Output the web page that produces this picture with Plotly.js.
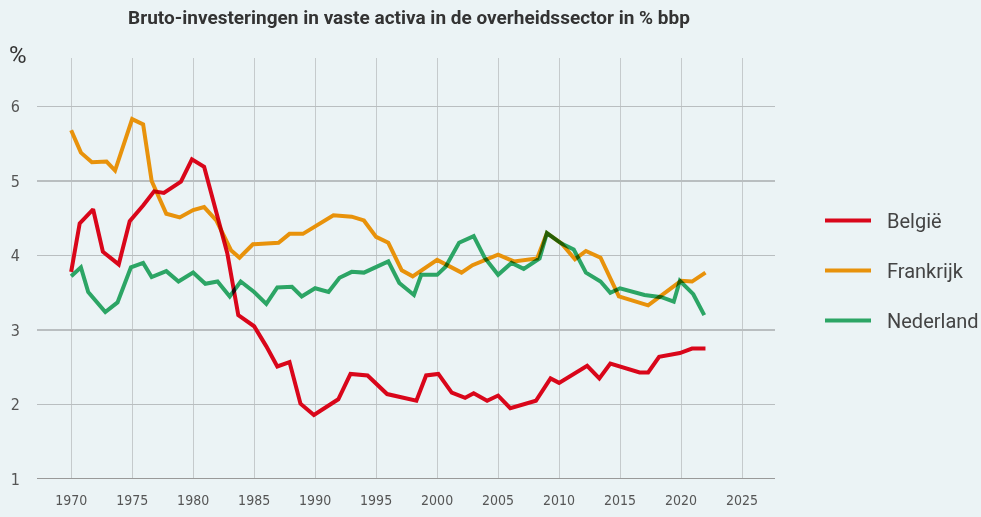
<!DOCTYPE html>
<html>
<head>
<meta charset="utf-8">
<script src="https://cdn.plot.ly/plotly-3.0.1.min.js"></script>
<style>
html,body{margin:0;padding:0;background:#ebf3f5;}
#chart{width:981px;height:517px;}
.scatterlayer .trace path.js-line{mix-blend-mode:multiply;}
.legend .legendlines path{stroke-dasharray:46 200;}
</style>
</head>
<body>
<div id="chart"></div>
<script>
// Belgium
const belgieYears = [1970.0,1970.7,1971.8,1972.6,1973.9,1974.8,1975.9,1976.8,1977.6,1979.0,1979.9,1980.9,1982.8,1983.7,1985.0,1986.0,1986.9,1987.9,1988.8,1989.9,1991.9,1992.9,1994.3,1995.9,1998.3,1999.1,2000.1,2001.2,2002.3,2003.0,2004.1,2005.0,2006.0,2008.1,2009.3,2010.0,2012.3,2013.3,2014.2,2016.6,2017.3,2018.2,2019.9,2020.9,2022.0];
const belgieValues = [3.78,4.43,4.62,4.05,3.88,4.46,4.67,4.86,4.84,4.99,5.29,5.19,4.03,3.20,3.05,2.78,2.51,2.57,2.01,1.86,2.07,2.41,2.39,2.14,2.05,2.39,2.41,2.16,2.09,2.15,2.05,2.12,1.95,2.05,2.35,2.29,2.52,2.35,2.55,2.43,2.43,2.64,2.69,2.75,2.75];
// France
const frankrijkYears = [1970.0,1970.8,1971.7,1972.9,1973.6,1975.0,1975.9,1976.6,1977.8,1978.9,1980.0,1980.9,1981.9,1983.1,1983.8,1984.9,1987.0,1987.9,1989.0,1991.5,1993.0,1994.0,1995.0,1996.0,1997.1,1998.0,2000.0,2002.0,2002.9,2005.0,2006.3,2008.2,2009.0,2010.2,2011.3,2012.2,2013.4,2014.9,2017.3,2020.0,2020.9,2022.0];
const frankrijkValues = [5.68,5.38,5.25,5.26,5.14,5.83,5.76,5.00,4.56,4.51,4.61,4.65,4.47,4.07,3.97,4.15,4.17,4.29,4.29,4.54,4.52,4.47,4.25,4.17,3.80,3.72,3.94,3.77,3.87,4.01,3.92,3.96,4.30,4.16,3.95,4.06,3.97,3.45,3.33,3.66,3.65,3.77];
// Netherlands
const nederlandYears = [1970.0,1970.8,1971.4,1972.8,1973.8,1974.9,1975.9,1976.6,1977.8,1978.8,1980.0,1981.0,1982.0,1983.0,1983.9,1985.0,1986.0,1986.9,1988.1,1988.9,1990.0,1991.1,1992.0,1993.0,1994.0,1996.0,1996.9,1998.1,1998.7,2000.0,2000.7,2001.8,2003.0,2003.9,2005.0,2006.1,2007.1,2008.4,2009.0,2010.2,2011.2,2012.2,2013.4,2014.2,2015.0,2017.0,2018.4,2019.4,2019.9,2021.0,2021.9];
const nederlandValues = [3.72,3.84,3.51,3.24,3.37,3.84,3.90,3.71,3.79,3.65,3.77,3.62,3.65,3.45,3.65,3.51,3.35,3.57,3.58,3.45,3.56,3.51,3.70,3.78,3.77,3.92,3.63,3.47,3.74,3.74,3.85,4.17,4.26,3.97,3.74,3.90,3.82,3.96,4.30,4.16,4.08,3.77,3.65,3.50,3.56,3.47,3.44,3.38,3.66,3.48,3.20];

const seriesNames = ['België','Frankrijk','Nederland'];
const seriesColors = ['#d9061a','#e8920b','#2ca565'];
const xTicks = [1970,1975,1980,1985,1990,1995,2000,2005,2010,2015,2020,2025];
const yTicks = [1,2,3,4,5,6];
const titleText = 'Bruto-investeringen in vaste activa in de overheidssector in % bbp';

const xs = [belgieYears, frankrijkYears, nederlandYears];
const ys = [belgieValues, frankrijkValues, nederlandValues];

const traces = seriesNames.map((n,i)=>({
  type:'scatter', mode:'lines', name:n,
  x:xs[i], y:ys[i],
  line:{color:seriesColors[i], width:4},
  legendgroup:n
}));

const tickFont = {family:'"Liberation Sans Narrow","DejaVu Sans Condensed","Roboto",sans-serif', size:14, color:'#555'};

const layout = {
  width:981, height:517,
  paper_bgcolor:'#ebf3f5', plot_bgcolor:'#ebf3f5',
  margin:{l:37, r:206, t:58, b:38},
  title:{text:'<b>'+titleText+'</b>', x:409/981, xanchor:'center', y:1-17/517, yanchor:'middle',
         font:{family:'Roboto, sans-serif', size:19, color:'#333'}},
  xaxis:{range:[1967.2,2027.7], tickvals:xTicks, ticktext:xTicks.map(String),
         showgrid:true, gridcolor:'#c5cacc', gridwidth:1, zeroline:false,
         showline:false, ticks:'', ticklabelstandoff:11, tickfont:tickFont, fixedrange:true},
  yaxis:{range:[1,6.65], tickvals:yTicks, ticktext:yTicks.map(String),
         showgrid:true, gridcolor:'#b9bec0', gridwidth:1.3, zeroline:false,
         showline:false, ticks:'', ticklabelstandoff:16,
         tickfont:Object.assign({}, tickFont, {size:16}), fixedrange:true},
  shapes:[{type:'line', xref:'paper', yref:'y', x0:0, x1:1, y0:1, y1:1, line:{color:'#999', width:2}}],
  annotations:[{text:'%', xref:'paper', yref:'paper', x:(18-37)/738, y:(479-55)/421, xanchor:'center', yanchor:'middle',
               showarrow:false, font:{family:'Roboto, sans-serif', size:24, color:'#333'}}],
  showlegend:true,
  legend:{xref:'container', yref:'container', x:820/981, y:1-201/517, xanchor:'left', yanchor:'top', bgcolor:'rgba(0,0,0,0)',
          font:{family:'Roboto, sans-serif', size:20, color:'#444'}, tracegroupgap:21, itemwidth:57}
};

Plotly.newPlot('chart', traces, layout, {displayModeBar:false, staticPlot:true});
</script>
</body>
</html>
